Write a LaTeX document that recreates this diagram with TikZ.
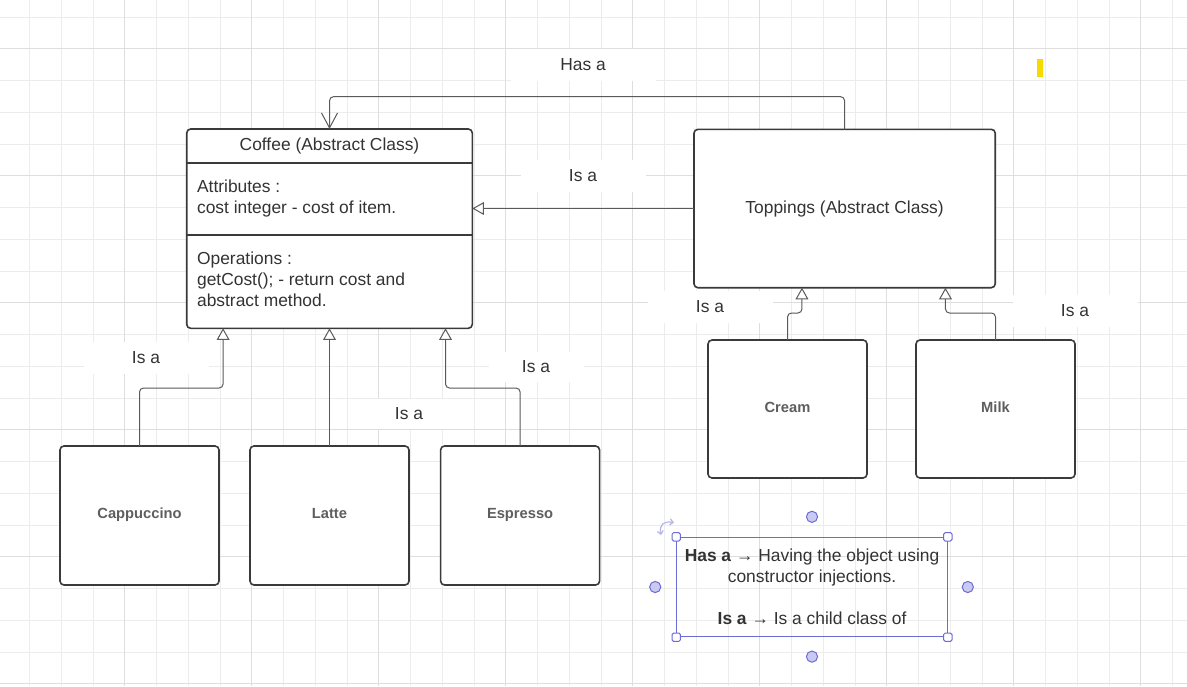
\documentclass[tikz,border=0pt]{standalone}
\usepackage{fontspec}
\setmainfont{Liberation Sans}
\usetikzlibrary{positioning,arrows.meta}

\definecolor{gridminor}{HTML}{ECECEC}
\definecolor{gridmajor}{HTML}{DEDEDE}
\definecolor{boxline}{HTML}{3A3A3A}
\definecolor{connline}{HTML}{5A5A5A}
\definecolor{txt}{HTML}{333333}
\definecolor{leaftxt}{HTML}{5E5E5E}
\definecolor{selblue}{HTML}{6C6CD4}
\definecolor{knobfill}{HTML}{C9C9F2}
\definecolor{rotblue}{HTML}{B4B4E6}
\definecolor{marker}{HTML}{F7DA00}

\tikzset{
  gridline/.style={draw=gridminor, line width=0.5pt},
  gridbold/.style={draw=gridmajor, line width=0.6pt},
  classbox/.style={draw=boxline, line width=0.8pt, rounded corners=2pt, fill=white, inner sep=0pt, outer sep=0pt},
  leafbox/.style={classbox, minimum width=79.5pt, minimum height=69.5pt, text=leaftxt, text height=0.65em, text depth=0.32em, font=\fontsize{7.35pt}{9pt}\selectfont\bfseries},
  classtext/.style={inner sep=0pt, align=left, anchor=west},
  isa/.style={draw=connline, line width=0.5pt, rounded corners=2pt, -{Triangle[fill=white, length=5.8pt, width=6.4pt]}},
  hasa/.style={draw=connline, line width=0.5pt, rounded corners=2pt, -{Straight Barb[length=7.5pt, width=8pt]}},
  lbl/.style={fill=white, inner sep=0pt, minimum width=62.5pt, minimum height=16pt},
  legendbox/.style={draw=selblue, line width=0.5pt, align=center, minimum width=135.3pt, minimum height=49.7pt, inner sep=0pt},
  handle/.style={draw=selblue, fill=white, line width=0.5pt, rounded corners=0.8pt, minimum size=4.2pt, inner sep=0pt},
  knob/.style={circle, draw=selblue, fill=knobfill, line width=0.5pt, minimum size=5.6pt, inner sep=0pt},
}

\begin{document}
\begin{tikzpicture}[x=0.5pt, y=-0.5pt, font=\fontsize{8.7pt}{10.5pt}\selectfont, text=txt]
\useasboundingbox (0,0) rectangle (1187,686);
\fill[white] (0,0) rectangle (1187,686);
% grid
\foreach \k in {0,...,36} \draw[gridline] ({29.5+31.75*\k},0) -- ({29.5+31.75*\k},686);
\foreach \k in {0,...,21} \draw[gridline] (0,{17+31.75*\k}) -- (1187,{17+31.75*\k});
\foreach \k in {3,7,...,35} \draw[gridbold] ({29.5+31.75*\k},0) -- ({29.5+31.75*\k},686);
\foreach \k in {1,5,...,21} \draw[gridbold] (0,{17+31.75*\k}) -- (1187,{17+31.75*\k});
\fill[marker] (1036.7,59.3) rectangle (1043.3,76.7);

% Coffee class
\node[classbox, minimum width=142.8pt, minimum height=99.65pt] (coffee) at (329.5,228.65) {};
\coordinate (cut1) at (0,162.7);
\coordinate (cut2) at (0,235);
\draw[draw=boxline, line width=0.8pt] (coffee.west |- cut1) -- (coffee.east |- cut1);
\draw[draw=boxline, line width=0.8pt] (coffee.west |- cut2) -- (coffee.east |- cut2);
\node[inner sep=0pt] (cofhead) at (329.5,145.5) {Coffee (Abstract Class)};
\node[classtext] (cofattr) at (196.7,198) {Attributes :\\cost integer - cost of item.};
\node[classtext] (cofops) at (196.7,279.5) {Operations :\\getCost(); - return cost and\\abstract method.};

% Toppings class
\node[classbox, minimum width=150.65pt, minimum height=79.2pt] (toppings) at (844.6,208.5) {Toppings (Abstract Class)};

% children
\node[leafbox] (capp) at (139.5,515.5) {Cappuccino};
\node[leafbox, right=15.5pt of capp] (latte) {Latte};
\node[leafbox, right=15.8pt of latte] (espr) {Espresso};
\node[leafbox, minimum height=69pt] (cream) at (787.5,409) {Cream};
\node[leafbox, minimum height=69pt, right=24.5pt of cream] (milk) {Milk};

% connectors
\draw[hasa] (toppings.north) -- ++(0,-32.6) -| (coffee.north);
\draw[isa] (toppings.west) -- (toppings.west -| coffee.east);
\draw[isa] (capp.north) -- ++(0,-58) -| ([xshift=18.2pt]coffee.south west);
\draw[isa] (latte.north) -- (coffee.south);
\draw[isa] (espr.north) -- ++(0,-58) -| ([xshift=-13.4pt]coffee.south east);
\draw[isa] (cream.north) -- ++(0,-27) -| ([xshift=54pt]toppings.south west);
\draw[isa] (milk.north) -- ++(0,-27) -| ([xshift=-24.9pt]toppings.south east);

% labels
\node[lbl, minimum width=72.5pt] (hasalbl) at (583,65) {Has a};
\node[lbl] (isamid) at (583,176) {Is a};
\node[lbl] (isacapp) at (146,358) {Is a};
\node[lbl, minimum width=61.5pt, minimum height=15pt] (isalatte) at (409,414) {Is a};
\node[lbl, minimum width=47.5pt, minimum height=15pt] (isaespr) at (536,367) {Is a};
\node[lbl] (isacream) at (710,307) {Is a};
\node[lbl] (isamilk) at (1075,311) {Is a};

% legend (selected text box)
\node[legendbox] (legend) at (812,587) {\textbf{Has a} → Having the object using\\constructor injections.\\[10.5pt]\textbf{Is a} → Is a child class of};
\foreach \c/\n in {north west/hnw, north east/hne, south west/hsw, south east/hse}
  \node[handle] (\n) at (legend.\c) {};
\node[knob] (knobn) at ([yshift=10pt]legend.north) {};
\node[knob] (knobs) at ([yshift=-9.7pt]legend.south) {};
\node[knob] (knobw) at ([xshift=-10.5pt]legend.west) {};
\node[knob] (knobe) at ([xshift=10pt]legend.east) {};
\draw[rotblue, line width=0.6pt, {Straight Barb[length=1.6pt,width=3pt]}-{Straight Barb[length=1.6pt,width=3pt]}] (661,535) .. controls (659,524) and (664,521) .. (674,522.5);
\end{tikzpicture}
\end{document}
